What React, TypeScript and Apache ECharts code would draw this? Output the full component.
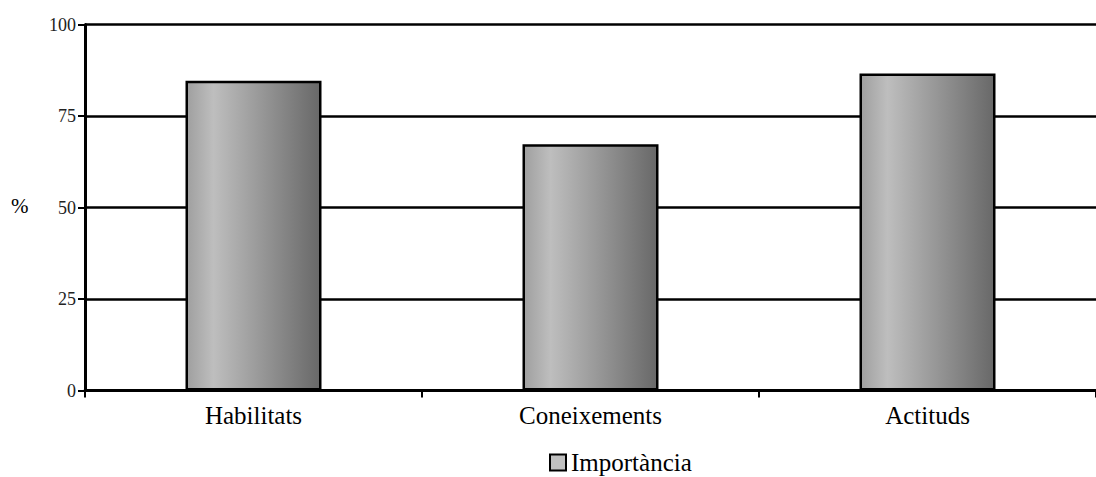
import React, { useEffect, useRef } from "react";
import * as echarts from "echarts";

const categories = ["Habilitats", "Coneixements", "Actituds"];
const seriesName = "Importància";
const values = [84.6, 67.3, 86.6];
const yTicks = [0, 25, 50, 75, 100];

export default function App() {
  const ref = useRef<HTMLDivElement>(null);
  useEffect(() => {
    document.body.style.margin = "0";
    const chart = echarts.init(ref.current!, null, { renderer: "svg" });
    const font = "Liberation Serif";
    const grad = new echarts.graphic.LinearGradient(0, 0, 1, 0, [
      { offset: 0, color: "#9f9f9f" },
      { offset: 0.2, color: "#bebebe" },
      { offset: 1, color: "#686868" },
    ]);
    chart.setOption({
      animation: false,
      textStyle: { fontFamily: font },
      grid: { left: 85, right: 0, top: 24.5, bottom: 86.5, containLabel: false },
      legend: {
        data: [{ name: seriesName, itemStyle: { color: "#c0c0c0", borderColor: "#000", borderWidth: 2 } }],
        top: 450,
        left: 549,
        padding: 0,
        itemWidth: 16,
        itemHeight: 16,
        itemGap: 4,
        icon: "rect",
        textStyle: { fontFamily: font, fontSize: 25, lineHeight: 25, color: "#000", padding: [0, 0, 0, 0] },
      },
      graphic: [
        {
          type: "text",
          left: 11,
          top: 195,
          style: { text: "%", fontFamily: font, fontSize: 21, fill: "#000" },
        },
      ],
      xAxis: {
        type: "category",
        data: categories,
        axisLine: { lineStyle: { color: "#000", width: 3 } },
        axisTick: { show: true, length: 7, lineStyle: { color: "#000", width: 2 } },
        axisLabel: { fontFamily: font, fontSize: 25, color: "#000", margin: 12 },
      },
      yAxis: {
        type: "value",
        min: 0,
        max: 100,
        interval: 25,
        axisLine: { show: true, lineStyle: { color: "#000", width: 3 } },
        axisTick: { show: true, length: 7, lineStyle: { color: "#000", width: 2 } },
        axisLabel: {
          fontFamily: font,
          fontSize: 18,
          color: "#222",
          margin: 9,
          formatter: (v: number) => (yTicks.includes(v) ? String(v) : ""),
        },
        splitLine: { show: true, lineStyle: { color: "#000", width: 2.5 } },
      },
      series: [
        {
          name: seriesName,
          type: "bar",
          data: values,
          barWidth: 136,
          z: 3,
          itemStyle: { color: grad, borderColor: "#000", borderWidth: 2.5 },
        },
      ],
    });
    return () => chart.dispose();
  }, []);
  return <div ref={ref} style={{ width: 1096, height: 477 }} />;
}
